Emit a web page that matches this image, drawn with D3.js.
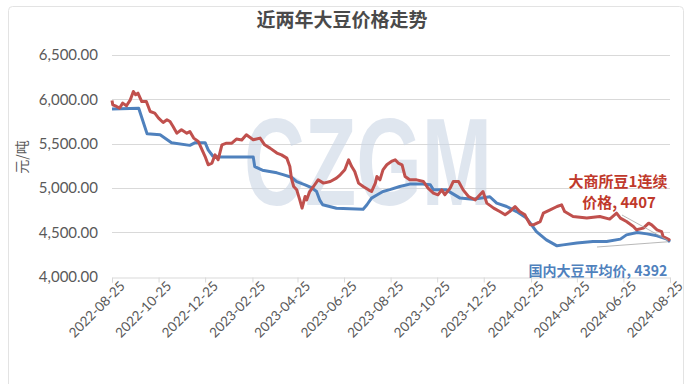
<!DOCTYPE html>
<html lang="zh">
<head>
<meta charset="UTF-8"/>
<title>近两年大豆价格走势</title>
<script src="https://d3js.org/d3.v7.min.js"></script>
<style>
  body { margin:0; background:#fff; }
  svg text { font-family: Lato, "Open Sans", "Noto Sans CJK SC", sans-serif; }
</style>
</head>
<body>
<script>
    // 国内大豆平均价 (元/吨)
    var avgDates = ["2022-08-25","2022-09-29","2022-10-10","2022-10-27","2022-11-11","2022-12-05","2022-12-12","2022-12-25","2022-12-29",
        "2023-01-04","2023-01-13","2023-02-26","2023-02-28","2023-03-10","2023-03-29","2023-04-06","2023-04-17","2023-04-24","2023-05-05",
        "2023-05-14","2023-05-20","2023-05-24","2023-05-28","2023-06-15","2023-07-20","2023-07-25","2023-07-31","2023-08-07","2023-08-15",
        "2023-08-24","2023-09-06","2023-09-19","2023-10-06","2023-10-16","2023-10-20","2023-11-06","2023-11-13","2023-11-24","2023-12-11",
        "2024-01-02","2024-01-11","2024-01-24","2024-02-06","2024-02-19","2024-02-24","2024-03-03","2024-03-16","2024-03-30","2024-04-07",
        "2024-04-25","2024-05-16","2024-06-03","2024-06-21","2024-06-29","2024-07-13","2024-07-26","2024-08-08","2024-08-21","2024-08-25"];
    var avgValues = [5890,5900,5610,5600,5510,5480,5510,5510,5430,
        5360,5350,5350,5240,5200,5170,5150,5120,5070,5035,
        5000,4960,4865,4810,4770,4760,4810,4885,4920,4960,
        4980,5016,5043,5043,5035,4980,4978,4941,4885,4873,
        4900,4828,4790,4733,4659,4602,4507,4414,4346,4357,
        4377,4395,4395,4422,4470,4496,4481,4459,4422,4392];

    // 大商所豆1连续价格 (元/吨)
    var dceDates = ["2022-08-25","2022-08-26","2022-08-31","2022-09-04","2022-09-08","2022-09-13","2022-09-18","2022-09-22","2022-09-25",
        "2022-09-28","2022-10-03","2022-10-09","2022-10-14","2022-10-20","2022-10-25","2022-10-31","2022-11-05","2022-11-09","2022-11-13",
        "2022-11-18","2022-11-24","2022-12-01","2022-12-05","2022-12-10","2022-12-16","2022-12-21","2022-12-25","2022-12-29","2023-01-03",
        "2023-01-07","2023-01-11","2023-01-16","2023-01-22","2023-01-29","2023-02-04","2023-02-11","2023-02-17","2023-02-26","2023-03-07",
        "2023-03-13","2023-03-20","2023-03-29","2023-04-04","2023-04-11","2023-04-15","2023-04-17","2023-04-20","2023-04-24","2023-04-28",
        "2023-05-01","2023-05-05","2023-05-07","2023-05-11","2023-05-16","2023-05-22","2023-05-29","2023-06-07","2023-06-15","2023-06-20",
        "2023-06-26","2023-07-01","2023-07-05","2023-07-09","2023-07-14","2023-07-20","2023-07-27","2023-07-31","2023-08-05","2023-08-07",
        "2023-08-11","2023-08-15","2023-08-20","2023-08-26","2023-08-31","2023-09-04","2023-09-09","2023-09-13","2023-09-19","2023-09-28",
        "2023-10-07","2023-10-13","2023-10-20","2023-10-26","2023-10-31","2023-11-04","2023-11-11","2023-11-15","2023-11-22","2023-11-28",
        "2023-12-05","2023-12-14","2023-12-20","2023-12-24","2023-12-29","2024-01-07","2024-01-15","2024-01-22","2024-01-28","2024-02-04",
        "2024-02-10","2024-02-17","2024-02-19","2024-02-24","2024-02-28","2024-03-08","2024-03-12","2024-03-21","2024-03-30","2024-04-05",
        "2024-04-09","2024-04-20","2024-05-08","2024-05-25","2024-06-07","2024-06-16","2024-06-21","2024-06-29","2024-07-08","2024-07-12",
        "2024-07-21","2024-07-28","2024-08-01","2024-08-08","2024-08-14","2024-08-16","2024-08-23","2024-08-25"];
    var dceValues = [5986,5938,5919,5901,5957,5927,5994,6088,6051,
        6070,5975,5975,5862,5844,5788,5738,5769,5749,5693,
        5618,5656,5618,5636,5562,5524,5430,5354,5261,5280,
        5373,5317,5486,5505,5505,5551,5540,5599,5543,5562,
        5486,5449,5393,5373,5336,5241,5110,5016,4978,4865,
        4772,4903,4865,4959,5016,5091,5054,5072,5110,5148,
        5204,5317,5241,5185,5054,5016,4978,4959,5054,5128,
        5091,5204,5261,5298,5317,5280,5261,5128,5091,5091,
        5072,4997,4941,4922,4978,4922,4997,5072,5072,4978,
        4903,4865,4922,4959,4828,4772,4733,4696,4733,4790,
        4733,4696,4659,4583,4583,4620,4715,4752,4790,4809,
        4733,4677,4659,4677,4648,4715,4659,4620,4564,4527,
        4546,4602,4583,4527,4507,4451,4420,4407];

    var tickDates = ["2022-08-25","2022-10-25","2022-12-25","2023-02-25","2023-04-25","2023-06-25","2023-08-25",
        "2023-10-25","2023-12-25","2024-02-25","2024-04-25","2024-06-25","2024-08-25"];
    var yTicks = [4000,4500,5000,5500,6000,6500];

    var w = 692, h = 384;
    var parse = d3.timeParse("%Y-%m-%d");

    var xScale = d3.scaleTime()
        .domain([parse("2022-08-25"), parse("2024-08-25")])
        .range([112, 670]);
    var yScale = d3.scaleLinear()
        .domain([4000, 6500])
        .range([276.5, 55]);

    var svg = d3.select("body").append("svg")
        .attr("width", w)
        .attr("height", h);

    // chart border
    svg.append("rect")
        .attr("x", 8.5).attr("y", 6.5)
        .attr("width", 675).attr("height", 390)
        .attr("rx", 4)
        .attr("fill", "#fff")
        .attr("stroke", "#e3e3e3");

    // title
    svg.append("text")
        .attr("x", 342).attr("y", 27)
        .attr("text-anchor", "middle")
        .attr("fill", "#4a4a4a")
        .style("font-family", "'Noto Sans CJK SC'")
        .style("font-weight", "bold")
        .style("font-size", "19px")
        .text("近两年大豆价格走势");

    // gridlines
    svg.selectAll(".grid")
        .data(yTicks.slice(1))
        .enter()
        .append("line")
        .attr("x1", 112).attr("x2", 670)
        .attr("y1", function(d) { return Math.round(yScale(d)) + 0.5; })
        .attr("y2", function(d) { return Math.round(yScale(d)) + 0.5; })
        .attr("stroke", "#d9d9d9");

    // watermark
    svg.append("text")
        .attr("transform", "translate(368,205) scale(0.68,1)")
        .attr("text-anchor", "middle")
        .attr("fill", "#cbd6e6")
        .attr("opacity", 0.6)
        .style("font-family", "'Liberation Sans'")
        .style("font-weight", "bold")
        .style("font-size", "124px")
        .text("CZGM");

    // y axis labels
    var yAxis = d3.axisLeft(yScale)
        .tickValues(yTicks)
        .tickSize(0)
        .tickPadding(14)
        .tickFormat(d3.format(",.2f"));
    var gy = svg.append("g")
        .attr("transform", "translate(112,0)")
        .call(yAxis);
    gy.select(".domain").remove();
    gy.selectAll("text")
        .attr("fill", "#595959")
        .style("font-size", "15px");

    // x axis
    var xAxis = d3.axisBottom(xScale)
        .tickValues(tickDates.map(parse))
        .tickSize(5)
        .tickFormat(d3.timeFormat("%Y-%m-%d"));
    var gx = svg.append("g")
        .attr("transform", "translate(0," + (Math.round(yScale(4000)) + 0.5) + ")")
        .call(xAxis);
    gx.select(".domain").attr("stroke", "#d9d9d9");
    gx.selectAll(".tick line").attr("stroke", "#d9d9d9");
    gx.selectAll("text")
        .attr("fill", "#595959")
        .style("font-size", "13.5px")
        .attr("text-anchor", "end")
        .attr("dx", "0.2em")
        .attr("dy", "0.9em")
        .attr("transform", "rotate(-45)")
        .attr("y", 4)
        .attr("x", 0);

    // y axis title
    svg.append("text")
        .attr("transform", "translate(27,157) rotate(-90)")
        .attr("text-anchor", "middle")
        .attr("fill", "#595959")
        .style("font-family", "'Noto Sans CJK SC'")
        .style("font-size", "14px")
        .text("元/吨");

    var line = d3.line()
        .x(function(d) { return xScale(d[0]); })
        .y(function(d) { return yScale(d[1]); });

    var avgData = avgDates.map(function(d, i) { return [parse(d), avgValues[i]]; });
    var dceData = dceDates.map(function(d, i) { return [parse(d), dceValues[i]]; });

    svg.append("path")
        .datum(avgData)
        .attr("fill", "none")
        .attr("stroke", "#4f81bd")
        .attr("stroke-width", 3)
        .attr("stroke-linejoin", "round")
        .attr("d", line);

    svg.append("path")
        .datum(dceData)
        .attr("fill", "none")
        .attr("stroke", "#c0504d")
        .attr("stroke-width", 3)
        .attr("stroke-linejoin", "round")
        .attr("d", line);

    // leader lines
    var lastDce = dceData[dceData.length - 1];
    var lastAvg = avgData[avgData.length - 1];
    svg.append("line")
        .attr("x1", 622).attr("y1", 215)
        .attr("x2", xScale(lastDce[0]) - 2).attr("y2", yScale(lastDce[1]))
        .attr("stroke", "#a6a6a6").attr("stroke-width", 0.8);
    svg.append("line")
        .attr("x1", 597).attr("y1", 247)
        .attr("x2", xScale(lastAvg[0]) - 2).attr("y2", yScale(lastAvg[1]))
        .attr("stroke", "#a6a6a6").attr("stroke-width", 0.8);

    // data labels
    svg.append("text")
        .attr("x", 618).attr("y", 187)
        .attr("text-anchor", "middle")
        .attr("fill", "#c0392b")
        .style("font-family", "'Noto Sans CJK SC'")
        .style("font-weight", "bold")
        .style("font-size", "15px")
        .text("大商所豆1连续");
    svg.append("text")
        .attr("x", 619).attr("y", 208)
        .attr("text-anchor", "middle")
        .attr("fill", "#c0392b")
        .style("font-family", "'Noto Sans CJK SC'")
        .style("font-weight", "bold")
        .style("font-size", "15px")
        .text("价格, " + lastDce[1]);

    svg.append("text")
        .attr("x", 598).attr("y", 276)
        .attr("text-anchor", "middle")
        .attr("fill", "#4f81bd")
        .style("font-family", "'Noto Sans CJK SC'")
        .style("font-weight", "bold")
        .style("font-size", "14px")
        .text("国内大豆平均价, " + lastAvg[1]);
</script>
</body>
</html>
